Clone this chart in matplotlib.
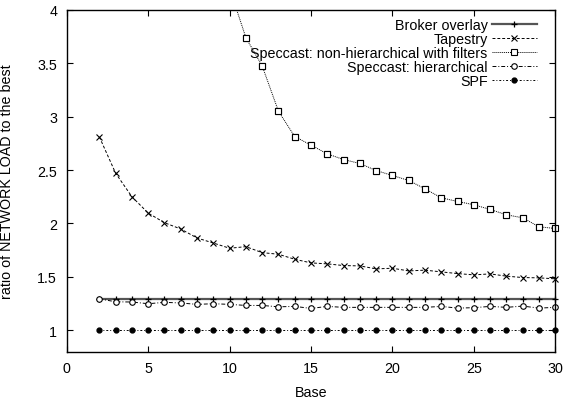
import numpy as np
import matplotlib
matplotlib.use('Agg')
from matplotlib import pyplot as plt

plt.rcParams['font.family'] = ['Liberation Sans', 'DejaVu Sans']
plt.rcParams['font.size'] = 10.3

base = list(range(2, 31))

broker = [1.29, 1.29, 1.29, 1.29, 1.29, 1.29, 1.29, 1.29, 1.29, 1.29,
          1.29, 1.29, 1.29, 1.29, 1.29, 1.29, 1.29, 1.29, 1.29, 1.29,
          1.29, 1.29, 1.29, 1.29, 1.29, 1.29, 1.29, 1.29, 1.29]
tapestry = [2.81, 2.47, 2.25, 2.097, 2.007, 1.948, 1.864, 1.817, 1.768, 1.783,
            1.727, 1.712, 1.665, 1.631, 1.622, 1.606, 1.603, 1.575, 1.581, 1.556,
            1.563, 1.547, 1.531, 1.519, 1.528, 1.507, 1.494, 1.491, 1.482]
nonhier = [9.0, 7.5, 6.5, 5.8, 5.3, 4.95, 4.65, 4.4, 4.2, 3.738,
           3.474, 3.05, 2.813, 2.733, 2.651, 2.598, 2.561, 2.495, 2.449, 2.402,
           2.324, 2.24, 2.206, 2.175, 2.131, 2.081, 2.053, 1.969, 1.953]
hier = [1.295, 1.267, 1.265, 1.249, 1.262, 1.256, 1.243, 1.249, 1.243, 1.233,
        1.233, 1.220, 1.224, 1.205, 1.224, 1.215, 1.215, 1.215, 1.215, 1.215,
        1.215, 1.224, 1.208, 1.212, 1.224, 1.215, 1.227, 1.208, 1.215]
spf = [1.0, 1.0, 1.0, 1.0, 1.0, 1.0, 1.0, 1.0, 1.0, 1.0,
       1.0, 1.0, 1.0, 1.0, 1.0, 1.0, 1.0, 1.0, 1.0, 1.0,
       1.0, 1.0, 1.0, 1.0, 1.0, 1.0, 1.0, 1.0, 1.0]

labels = ['Broker overlay', 'Tapestry', 'Speccast: non-hierarchical with filters',
          'Speccast: hierarchical', 'SPF']

fig = plt.figure(figsize=(5.66, 4.02), dpi=100)
ax = fig.add_axes([0.118, 0.1226, 0.863, 0.8508])

ax.plot(base, broker, color='#555555', lw=1.6, marker='+', ms=5, mew=0.9,
        mec='black', label=labels[0], clip_on=False)
ax.plot(base, tapestry, color='black', lw=0.7, ls=(0, (3, 2)), marker='x',
        ms=4, mew=0.8, label=labels[1], clip_on=False)
ax.plot(base, nonhier, color='black', lw=0.7, ls=(0, (1, 1)), marker='s',
        ms=4, mew=0.8, mfc='white', label=labels[2])
# markers of the visible points, not clipped at the frame
vis = np.array(nonhier) <= 4
ax.plot(np.array(base)[vis], np.array(nonhier)[vis], ls='none', marker='s',
        ms=4, mew=0.8, mfc='white', mec='black', clip_on=False)
ax.plot(base, hier, color='black', lw=0.7, ls=(0, (4, 2, 1, 2)), marker='o',
        ms=4, mew=0.8, mfc='white', label=labels[3], clip_on=False)
ax.plot(base, spf, color='black', lw=0.7, ls=(0, (2, 2, 1, 2)), marker='o',
        ms=3.5, mfc='black', mec='black', label=labels[4], clip_on=False)

ax.set_xlim(0, 30)
ax.set_ylim(0.8, 4)
ax.set_xticks([0, 5, 10, 15, 20, 25, 30])
ax.set_yticks([1, 1.5, 2, 2.5, 3, 3.5, 4])
ax.set_yticklabels(['1', '1.5', '2', '2.5', '3', '3.5', '4'])
ax.tick_params(direction='in', length=4, width=0.8, top=True, right=True,
               pad=7, colors='black')
for s in ax.spines.values():
    s.set_linewidth(1.0)

ax.set_xlabel('Base', labelpad=7)
ax.set_ylabel('ratio of NETWORK LOAD to the best', labelpad=17)

ax.legend(loc='upper right', bbox_to_anchor=(537 / 566, 1 - 19 / 402),
          bbox_transform=fig.transFigure, frameon=False, markerfirst=False,
          borderpad=0, borderaxespad=0, handlelength=3.15, handletextpad=0.3,
          labelspacing=0.0, fontsize=10.3)

fig.savefig('out.png', dpi=100)
